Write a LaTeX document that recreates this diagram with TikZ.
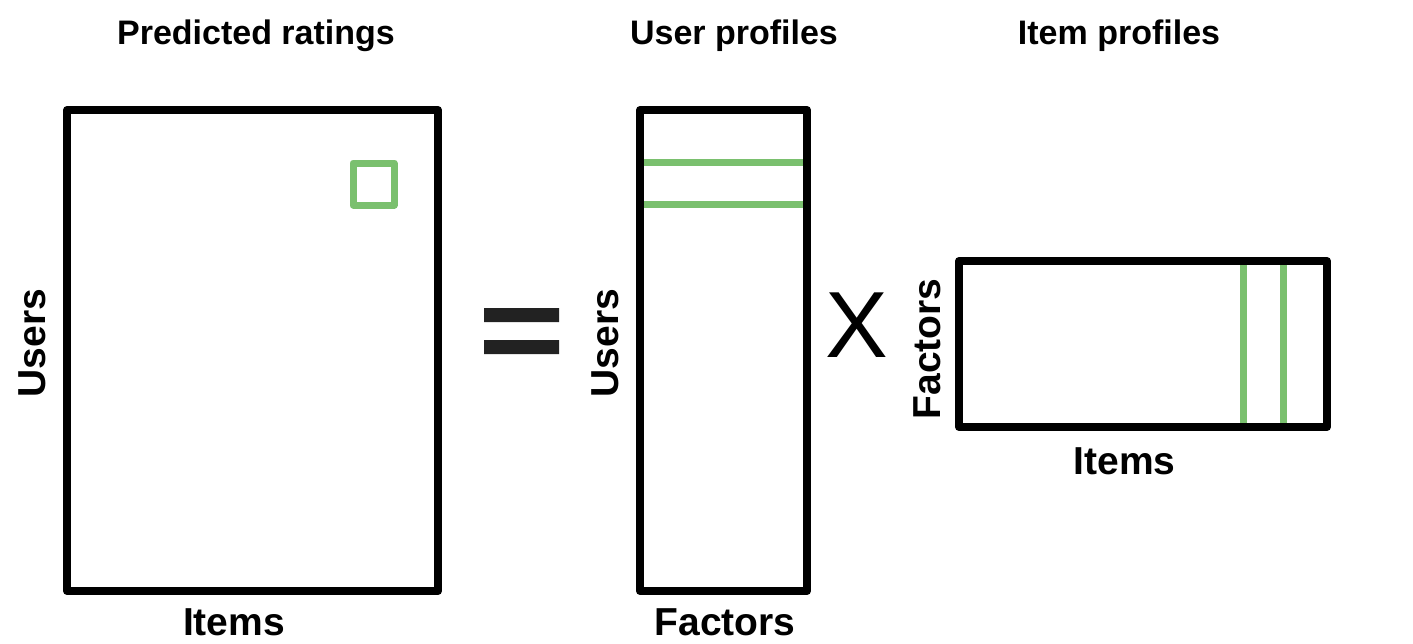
\documentclass[tikz,border=0pt]{standalone}
\usepackage{fontspec}
\setmainfont{Liberation Sans}
\definecolor{mgreen}{RGB}{122,192,110}
\definecolor{mgray}{RGB}{34,34,34}
\begin{document}
\begin{tikzpicture}[x=0.5pt,y=-0.5pt, line join=round, line cap=round,
  mat/.style={line width=4pt},
  cell/.style={mgreen,line width=3.5pt,line cap=butt},
  title/.style={font=\fontsize{17}{20}\selectfont\bfseries, anchor=base, inner sep=0pt},
  axis/.style={font=\fontsize{19.5}{23}\selectfont\bfseries, anchor=base, inner sep=0pt}]
 \useasboundingbox (0,0) rectangle (1413,643);
 % titles
 \node[title] (tR) at (256,44) {Predicted ratings};
 \node[title] (tU) at (734,44) {User profiles};
 \node[title] (tI) at (1119,44) {Item profiles};
 % ratings matrix
 \draw[cell] (353,163) rectangle (394,205);
 \draw[mat] (67,110) rectangle (438,591);
 \node[axis] (rItems) at (234,635) {Items};
 \node[axis,rotate=90] (rUsers) at (45,343) {Users};
 % equals sign
 \fill[mgray] (484,308) rectangle (559,322) (484,340) rectangle (559,354);
 % user profiles
 \draw[cell] (640,162)--(807,162) (640,204)--(807,204);
 \draw[mat] (640,110) rectangle (807,591);
 \node[axis] (uFactors) at (725,635) {Factors};
 \node[axis,rotate=90] (uUsers) at (618,343) {Users};
 % times
 \node[font=\fontsize{47}{50}\selectfont, inner sep=0pt] (times) at (857,325) {X};
 % item profiles
 \draw[cell] (1243,261)--(1243,427) (1283,261)--(1283,427);
 \draw[mat] (959,261) rectangle (1327,427);
 \node[axis] (iItems) at (1124.5,474) {Items};
 \node[axis,rotate=90] (iFactors) at (940,349) {Factors};
\end{tikzpicture}
\end{document}
